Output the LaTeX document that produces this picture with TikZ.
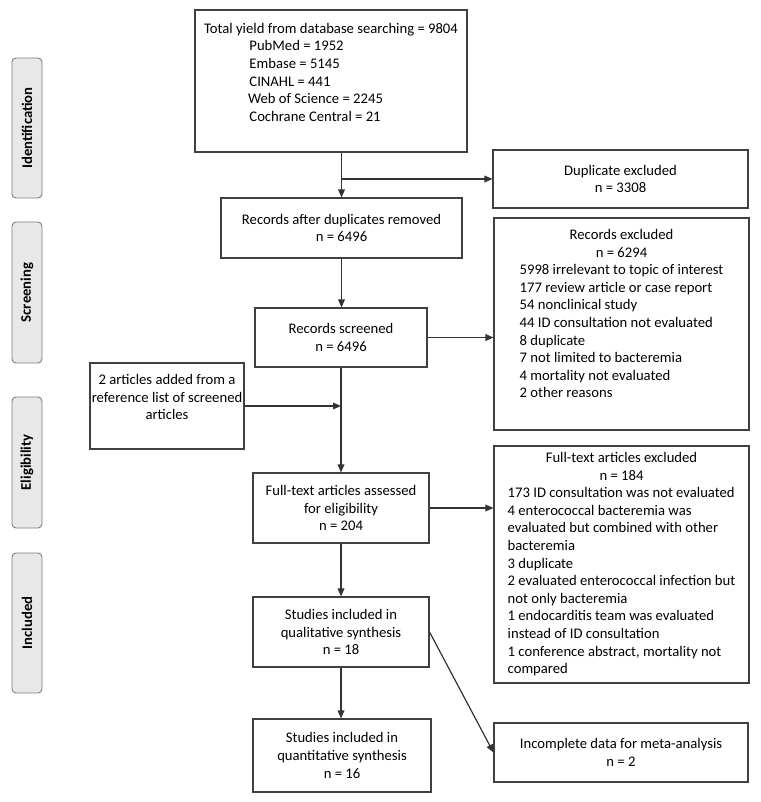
\documentclass[tikz,border=0pt]{standalone}
\usepackage{fontspec}
\setmainfont{Carlito}
\usetikzlibrary{arrows.meta}

\newcommand{\titleline}[1]{\multicolumn{1}{@{}c@{}}{#1}}

\begin{document}
\begin{tikzpicture}[x=0.75pt,y=-0.75pt,
  box/.style={draw=black!75, line width=0.8pt, rectangle, inner sep=0pt, align=center,
    font=\fontsize{11}{13.2}\selectfont},
  phase/.style={draw=black!50, fill=black!9, line width=0.7pt, rounded corners=3pt,
    minimum height=22.5pt, rotate=90, font=\bfseries\fontsize{11}{13.2}\selectfont},
  flow/.style={-{Triangle[length=6pt,width=5pt]}, line width=0.9pt, black!80}]
  \useasboundingbox (0,0) rectangle (760,802);

  % phase labels on the left
  \node[phase, minimum width=105pt] (ident) at (27,128) {Identification};
  \node[phase, minimum width=105.75pt] (screen) at (27,292.5) {Screening};
  \node[phase, minimum width=98.25pt] (elig) at (27,462.5) {Eligibility};
  \node[phase, minimum width=105pt] (incl) at (27,623) {Included};

  % main column
  \node[box, minimum width=204pt, minimum height=106.5pt, align=left] (total) at (331,81)
    {Total yield from database searching = 9804\\
     \hspace*{34pt}PubMed = 1952\\
     \hspace*{34pt}Embase = 5145\\
     \hspace*{34pt}CINAHL = 441\\
     \hspace*{33pt}Web of Science = 2245\\
     \hspace*{34pt}Cochrane Central = 21\\ \mbox{}};
  \node[box, minimum width=180.75pt, minimum height=45pt] (after) at (341.5,228)
    {Records after duplicates removed\\ n = 6496};
  \node[box, minimum width=129pt, minimum height=44.25pt] (screened) at (341,337.5)
    {Records screened\\ n = 6496};
  \node[box, minimum width=132pt, minimum height=52.5pt] (fulltext) at (341,508)
    {Full-text articles assessed\\ for eligibility\\ n = 204};
  \node[box, minimum width=132pt, minimum height=52.5pt] (qual) at (341,632)
    {Studies included in\\ qualitative synthesis\\ n = 18};
  \node[box, minimum width=133.5pt, minimum height=54.75pt] (quant) at (342,755.5)
    {Studies included in\\ quantitative synthesis\\ n = 16};

  % extra source
  \node[box, minimum width=115.5pt, minimum height=64.5pt] (added) at (167,406)
    {2 articles added from a\\ reference list of screened\\ articles\\ \mbox{}};

  % exclusions on the right
  \node[box, minimum width=191.25pt, minimum height=43.5pt] (dup) at (620.5,179)
    {Duplicate excluded\\ n = 3308};
  \node[box, minimum width=191.25pt, minimum height=159pt] (recexcl) at (621.5,324)
    {\begin{tabular}{@{}l@{}}
     \titleline{Records excluded}\\
     \titleline{n = 6294}\\
     5998 irrelevant to topic of interest\\
     177 review article or case report\\
     54 nonclinical study\\
     44 ID consultation not evaluated\\
     8 duplicate\\
     7 not limited to bacteremia\\
     4 mortality not evaluated\\
     2 other reasons\\
     \mbox{}
     \end{tabular}};
  \node[box, minimum width=191.25pt, minimum height=177.75pt] (ftexcl) at (621.5,564.5)
    {\begin{tabular}{@{}l@{}}
     \titleline{Full-text articles excluded}\\
     \titleline{n = 184}\\
     173 ID consultation was not evaluated\\
     4 enterococcal bacteremia was\\
     evaluated but combined with other\\
     bacteremia\\
     3 duplicate\\
     2 evaluated enterococcal infection but\\
     not only bacteremia\\
     1 endocarditis team was evaluated\\
     instead of ID consultation\\
     1 conference abstract, mortality not\\
     compared
     \end{tabular}};
  \node[box, minimum width=190.5pt, minimum height=44.25pt] (incomplete) at (621,752.5)
    {Incomplete data for meta-analysis\\ n = 2};

  % connectors
  \draw[flow] (after.north |- total.south) -- (after.north);
  \draw[flow] (after.north |- dup.west) -- (dup.west);
  \draw[flow] (after.south) -- (after.south |- screened.north);
  \draw[flow] (screened.east) -- (screened.east -| recexcl.west);
  \draw[flow] (screened) -- (fulltext);
  \draw[flow] (added.east) -- (added.east -| fulltext.north);
  \draw[flow] (fulltext.east) -- (fulltext.east -| ftexcl.west);
  \draw[flow] (fulltext) -- (qual);
  \draw[flow] (qual.south) -- (qual.south |- quant.north);
  \draw[flow] (qual.east) -- (incomplete.west);
\end{tikzpicture}
\end{document}
